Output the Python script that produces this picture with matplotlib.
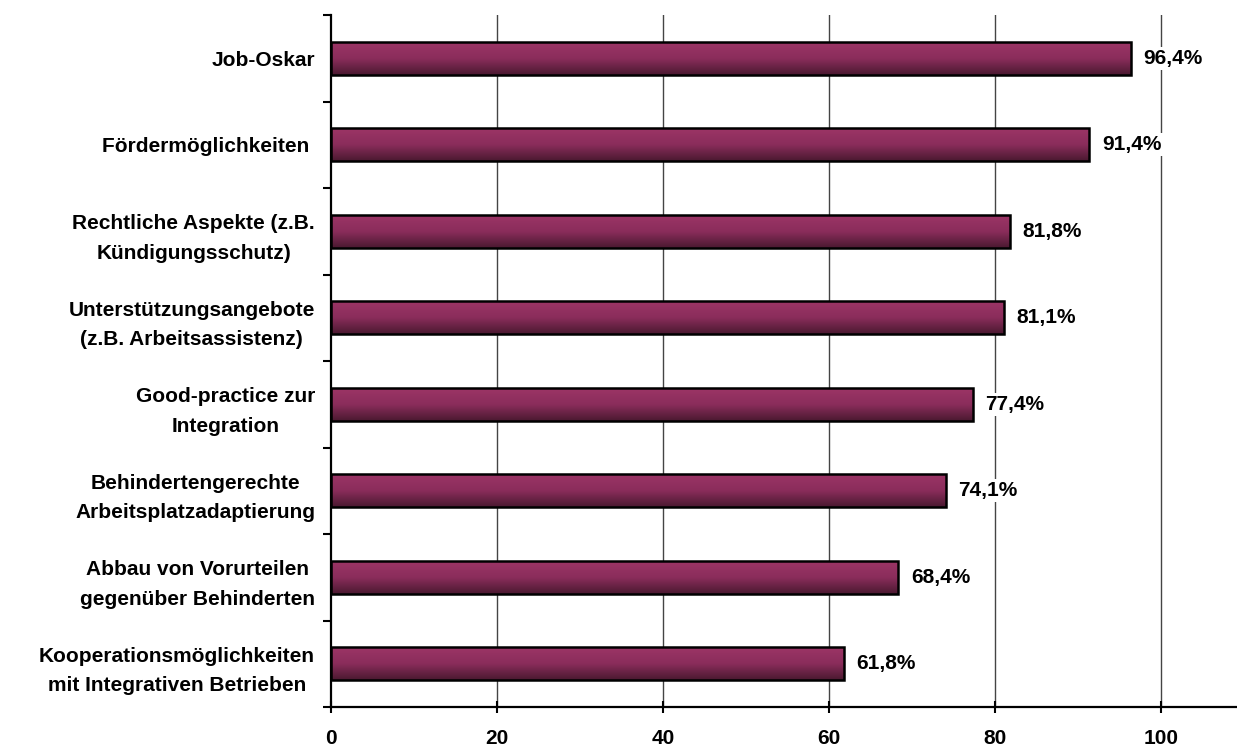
import numpy as np
import matplotlib
matplotlib.use("Agg")
import matplotlib.pyplot as plt
from matplotlib.colors import LinearSegmentedColormap

categories = [
    "Job-Oskar",
    "Fördermöglichkeiten ",
    "Rechtliche Aspekte (z.B.\nKündigungsschutz)",
    "Unterstützungsangebote\n(z.B. Arbeitsassistenz)",
    "Good-practice zur\nIntegration",
    "Behindertengerechte\nArbeitsplatzadaptierung",
    "Abbau von Vorurteilen\ngegenüber Behinderten",
    "Kooperationsmöglichkeiten\nmit Integrativen Betrieben",
]
values = [96.4, 91.4, 81.8, 81.1, 77.4, 74.1, 68.4, 61.8]
value_labels = ["96,4%", "91,4%", "81,8%", "81,1%", "77,4%", "74,1%", "68,4%", "61,8%"]
xticks = [0, 20, 40, 60, 80, 100]

plt.rcParams["font.family"] = ["Liberation Sans", "DejaVu Sans"]
FS = 15

fig = plt.figure(figsize=(12.37, 7.47), dpi=100)
ax = fig.add_axes([331 / 1237, 1 - 707 / 747, 1 - 331 / 1237, (707 - 15) / 747])

ypos = np.arange(len(categories))
bar_h = 0.38
bars = ax.barh(ypos, values, height=bar_h, color="none", edgecolor="black",
               linewidth=1.8, zorder=3)

grad = LinearSegmentedColormap.from_list("plum", ["#9c3566", "#8a2d5b", "#4a1930"])
g = np.linspace(0, 1, 256).reshape(-1, 1)
for b in bars:
    x0, y0 = b.get_x(), b.get_y()
    w, h = b.get_width(), b.get_height()
    im = ax.imshow(g, cmap=grad, aspect="auto", extent=(x0, x0 + w, y0 + h, y0),
                   zorder=2, interpolation="bilinear")
    im.set_clip_path(b)

for y, v, lab in zip(ypos, values, value_labels):
    ax.text(v + 1.5, y, lab, va="center", ha="left", fontsize=FS, fontweight="bold",
            zorder=4, bbox=dict(facecolor="white", edgecolor="none", pad=1.5))

ax.set_xlim(0, 109.2)
ax.set_ylim(len(categories) - 0.5, -0.5)

ax.set_xticks(xticks)
ax.set_xticklabels([str(t) for t in xticks], fontsize=FS, fontweight="bold")
ax.tick_params(axis="x", direction="inout", length=9, width=1.5, pad=11.5)

ax.set_yticks(ypos)
ax.set_yticklabels(categories, fontsize=FS, fontweight="bold", ha="right",
                   multialignment="center", linespacing=1.7)
ax.tick_params(axis="y", which="major", length=0, pad=11.5)
ax.set_yticks(np.arange(-0.5, len(categories), 1.0), minor=True)
ax.tick_params(axis="y", which="minor", direction="out", length=6, width=1.5)

for t in xticks[1:]:
    ax.axvline(t, color="#444444", linewidth=1.0, zorder=1)

for side in ("top", "right"):
    ax.spines[side].set_visible(False)
for side in ("left", "bottom"):
    ax.spines[side].set_linewidth(1.6)

fig.savefig("out.png", dpi=100)
